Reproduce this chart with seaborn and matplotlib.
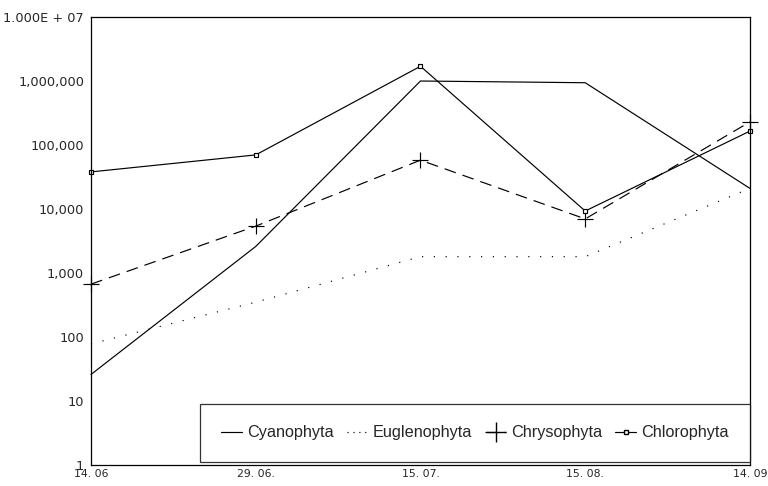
import numpy as np
import pandas as pd
import seaborn as sns
from matplotlib import pyplot as plt
from matplotlib.lines import Line2D
from matplotlib.ticker import FixedLocator, FuncFormatter

dates = ["14. 06", "29. 06.", "15. 07.", "15. 08.", "14. 09"]
cyanophyta = [26, 2600, 1000000, 940000, 21000]
euglenophyta = [78, 350, 1800, 1800, 21000]
chrysophyta = [670, 5400, 58000, 7000, 230000]
chlorophyta = [38000, 70000, 1700000, 9300, 165000]

series = {
    "Cyanophyta": cyanophyta,
    "Euglenophyta": euglenophyta,
    "Chrysophyta": chrysophyta,
    "Chlorophyta": chlorophyta,
}

sns.set_style("white")
plt.rcParams["font.family"] = ["DejaVu Sans"]

fig = plt.figure(figsize=(7.68, 4.86), dpi=100)
ax = fig.add_axes([0.1185, 0.0432, 0.858, 0.9218])

# per-series style: (dashes, marker, markersize)
styles = {
    "Cyanophyta": ((), None, 0),
    "Euglenophyta": ((1, 9), None, 0),
    "Chrysophyta": ((10, 6), "+", 11),
    "Chlorophyta": ((), "s", 3.5),
}

handles = []
for name, vals in series.items():
    d, m, ms = styles[name]
    df = pd.DataFrame({"pos": range(len(vals)), "value": vals})
    kw = dict(color="black", linewidth=0.85, ax=ax, clip_on=False)
    if m:
        kw.update(marker=m, markersize=ms, markerfacecolor="white",
                  markeredgecolor="black", markeredgewidth=0.85)
    if d:
        kw["dashes"] = d
    sns.lineplot(data=df, x="pos", y="value", **kw)
    h = Line2D([], [], color="black", lw=0.85,
               marker=m if m else None,
               markersize=ms + 4 if m == "+" else ms,
               markerfacecolor="white")
    if d:
        h.set_dashes((1, 4) if name == "Euglenophyta" else d)
    handles.append(h)

ax.set_yscale("log")
ax.set_ylim(1, 1e7)
ax.set_xlim(0, len(dates) - 1)
ax.set_xticks(range(len(dates)))
ax.set_xticklabels(dates)
ax.yaxis.set_major_locator(FixedLocator([10 ** k for k in range(8)]))
ax.yaxis.set_minor_locator(FixedLocator([]))


def fmt(v, _):
    if v >= 1e7:
        return "1.000E + 07"
    return f"{int(round(v)):,}"


ax.yaxis.set_major_formatter(FuncFormatter(fmt))
ax.tick_params(axis="y", length=0, labelsize=9.3, pad=5)
ax.tick_params(axis="x", length=0, labelsize=7.8, pad=3)
ax.set_xlabel("")
ax.set_ylabel("")
for sp in ax.spines.values():
    sp.set_visible(True)
    sp.set_color("black")
    sp.set_linewidth(0.9)

leg = ax.legend(handles, list(series.keys()), ncol=4,
                bbox_to_anchor=(0.165, 0.007, 0.835, 0.129), loc="center",
                mode="expand", handlelength=1.3,
                handletextpad=0.3, columnspacing=0.6, borderpad=1.3,
                prop={"family": "Liberation Sans", "size": 11.7},
                fancybox=False, frameon=True, borderaxespad=0)
leg.get_frame().set_edgecolor("black")
leg.get_frame().set_linewidth(0.9)

fig.savefig("out.png", dpi=100)
